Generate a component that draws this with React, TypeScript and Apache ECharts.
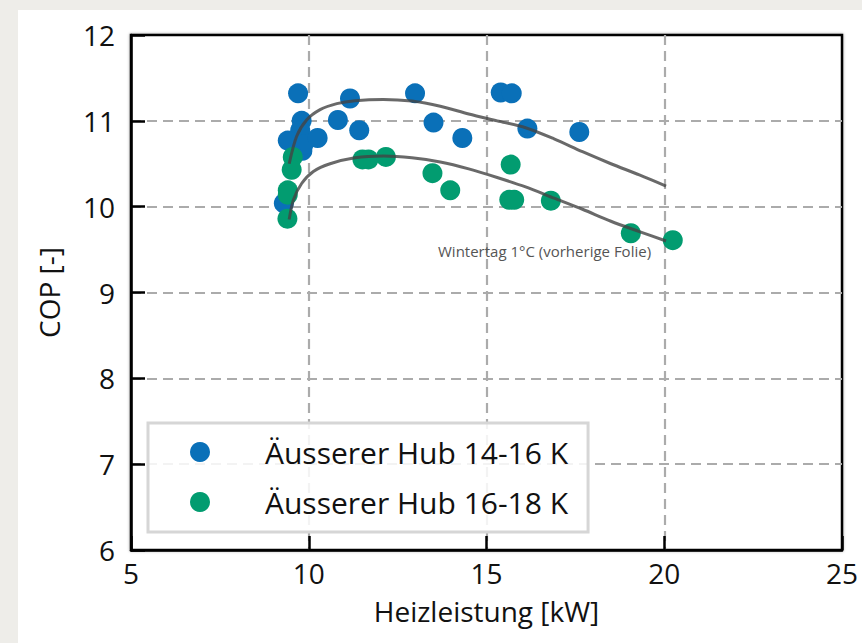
import React, { useEffect, useRef } from "react";
import * as echarts from "echarts";

const hub1416: [number, number][] = [
  [9.7, 11.32], [9.8, 11.0], [9.76, 10.89], [9.41, 10.77], [9.82, 10.65],
  [9.85, 10.72], [9.3, 10.04], [10.25, 10.8], [10.82, 11.01], [11.16, 11.26],
  [11.42, 10.89], [12.99, 11.32], [13.51, 10.98], [14.32, 10.8], [15.4, 11.33],
  [15.71, 11.32], [16.15, 10.91], [17.61, 10.87],
];
const hub1618: [number, number][] = [
  [9.55, 10.58], [9.52, 10.43], [9.41, 10.19], [9.41, 10.14], [9.4, 9.86],
  [11.51, 10.55], [11.68, 10.55], [12.17, 10.58], [13.48, 10.39], [13.98, 10.19],
  [15.68, 10.49], [15.64, 10.08], [15.78, 10.08], [16.81, 10.07], [19.06, 9.69],
  [20.24, 9.61],
];
const fitUpper: [number, number][] = [
  [9.45, 10.5], [9.66, 10.82], [9.94, 11.01], [10.32, 11.13], [10.79, 11.2],
  [11.3, 11.235], [12.1, 11.25], [12.9, 11.23], [13.7, 11.17], [14.5, 11.08],
  [15.3, 11.0], [16.1, 10.92], [16.9, 10.79], [17.7, 10.64], [18.5, 10.5],
  [19.3, 10.37], [20.05, 10.24],
];
const fitLower: [number, number][] = [
  [9.45, 9.85], [9.57, 10.08], [9.8, 10.27], [10.13, 10.41], [10.6, 10.5],
  [11.3, 10.57], [12.1, 10.59], [12.9, 10.57], [13.7, 10.52], [14.5, 10.44],
  [15.3, 10.34], [16.1, 10.23], [16.9, 10.1], [17.7, 9.97], [18.5, 9.83],
  [19.3, 9.71], [20.05, 9.6],
];
const seriesNames = ["Äusserer Hub 14-16 K", "Äusserer Hub 16-18 K"];
const annotation = "Wintertag 1°C (vorherige Folie)";
const xTitle = "Heizleistung [kW]";
const yTitle = "COP [-]";

const FONT = "'Open Sans', 'Noto Sans', sans-serif";

export default function App() {
  const ref = useRef<HTMLDivElement>(null);
  useEffect(() => {
    if (!ref.current) return;
    const chart = echarts.init(ref.current, null, { renderer: "svg" });
    const gridLine = {
      show: true,
      showMinLine: false,
      showMaxLine: false,
      lineStyle: { color: "#ababab", width: 2.2, type: [10, 6] as any },
    };
    const fitStyle = { color: "#444", width: 3, opacity: 0.8 };
    chart.setOption({
      animation: false,
      backgroundColor: "#ffffff",
      textStyle: { fontFamily: FONT },
      grid: {
        left: 113,
        top: 25,
        right: 20,
        bottom: 93,
        show: true,
        borderColor: "#000",
        borderWidth: 2.5,
        backgroundColor: "#fff",
        shadowBlur: 3,
        shadowColor: "rgba(0,0,0,0.35)",
      },
      xAxis: {
        type: "value",
        min: 5,
        max: 25,
        interval: 5,
        name: xTitle,
        nameLocation: "middle",
        nameGap: 47,
        nameTextStyle: { fontSize: 28, color: "#111", fontFamily: FONT },
        axisLine: { show: true, lineStyle: { color: "#000", width: 2.5 } },
        axisTick: { show: true, inside: true, length: 14, lineStyle: { color: "#000", width: 2.5 } },
        axisLabel: { fontSize: 28, color: "#111", margin: 9, fontFamily: FONT },
        splitLine: gridLine,
      },
      yAxis: {
        type: "value",
        min: 6,
        max: 12,
        interval: 1,
        name: yTitle,
        nameLocation: "middle",
        nameGap: 68,
        nameTextStyle: { fontSize: 28, color: "#111", fontFamily: FONT },
        axisLine: { show: true, lineStyle: { color: "#000", width: 2.5 } },
        axisTick: { show: true, inside: true, length: 14, lineStyle: { color: "#000", width: 2.5 } },
        axisLabel: { fontSize: 28, color: "#111", margin: 16, fontFamily: FONT },
        splitLine: gridLine,
      },
      legend: {
        show: true,
        left: 130,
        top: 413,
        orient: "vertical",
        data: seriesNames,
        icon: "circle",
        itemWidth: 20,
        itemHeight: 20,
        itemGap: 14,
        padding: [11, 20, 12, 42],
        borderColor: "#d6d6d6",
        borderWidth: 3,
        backgroundColor: "rgba(255,255,255,0.85)",
        textStyle: {
          fontSize: 30,
          color: "#111",
          fontFamily: FONT,
          lineHeight: 36,
          padding: [0, 0, 0, 50],
        },
      },
      graphic: [
        {
          type: "text",
          left: 420,
          top: 233,
          z: 100,
          style: {
            text: annotation,
            fontSize: 15,
            fontFamily: FONT,
            fill: "#555",
          },
        },
      ],
      series: [
        {
          name: seriesNames[0],
          type: "scatter",
          data: hub1416,
          symbolSize: 20,
          itemStyle: { color: "#0a70b8", opacity: 1 },
          z: 3,
        },
        {
          name: seriesNames[1],
          type: "scatter",
          data: hub1618,
          symbolSize: 20,
          itemStyle: { color: "#029c70", opacity: 1 },
          z: 4,
        },
        {
          name: "fit1",
          type: "line",
          data: fitUpper,
          smooth: 0.3,
          showSymbol: false,
          symbol: "none",
          lineStyle: fitStyle,
          z: 5,
        },
        {
          name: "fit2",
          type: "line",
          data: fitLower,
          smooth: 0.3,
          showSymbol: false,
          symbol: "none",
          lineStyle: fitStyle,
          z: 5,
        },
      ],
    });
    return () => chart.dispose();
  }, []);
  return (
    <div
      style={{
        position: "absolute",
        left: 0,
        top: 0,
        width: 862,
        height: 643,
        background: "#eeede9",
        overflow: "hidden",
      }}
    >
      <div
        ref={ref}
        style={{ position: "absolute", left: 18, top: 10, width: 844, height: 633, background: "#fff" }}
      />
    </div>
  );
}
